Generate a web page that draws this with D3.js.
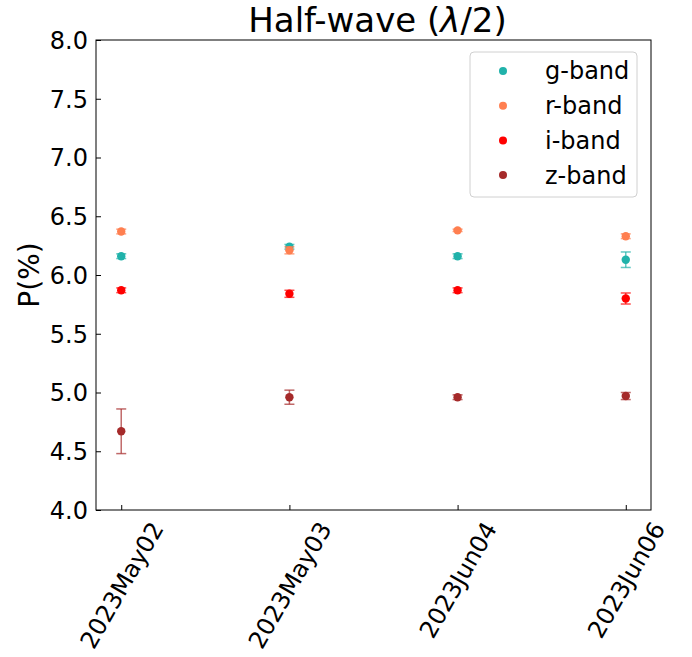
<!DOCTYPE html>
<html lang="en">
<head>
  <meta charset="UTF-8">
  <title>Half-wave</title>
  <script src="https://cdn.jsdelivr.net/npm/d3@7"></script>
  <style>
    body { margin: 0; background: #fff; }
    text { font-family: "DejaVu Sans", sans-serif; fill: #000; }
  </style>
</head>
<body>
<svg width="692" height="657"></svg>
<script>
  // data
  var dates = ["2023May02", "2023May03", "2023Jun04", "2023Jun06"];
  var bands = ["g-band", "r-band", "i-band", "z-band"];
  var colors = ["#20b2aa", "#ff7f50", "#ff0000", "#a52a2a"];
  var gVal = [6.16, 6.24, 6.16, 6.13];
  var gErr = [0.02, 0.02, 0.02, 0.066];
  var rVal = [6.37, 6.21, 6.38, 6.33];
  var rErr = [0.02, 0.03, 0.01, 0.02];
  var iVal = [5.87, 5.84, 5.87, 5.80];
  var iErr = [0.02, 0.03, 0.02, 0.047];
  var zVal = [4.67, 4.96, 4.96, 4.97];
  var zErr = [0.19, 0.06, 0.02, 0.03];
  var yTicks = [4.0, 4.5, 5.0, 5.5, 6.0, 6.5, 7.0, 7.5, 8.0];

  var series = [
    { name: bands[0], color: colors[0], val: gVal, err: gErr },
    { name: bands[1], color: colors[1], val: rVal, err: rErr },
    { name: bands[2], color: colors[2], val: iVal, err: iErr },
    { name: bands[3], color: colors[3], val: zVal, err: zErr }
  ];

  var margin = { top: 40, right: 41, bottom: 147, left: 96 };
  var width = 692 - margin.left - margin.right;
  var height = 657 - margin.top - margin.bottom;

  var x = d3.scaleLinear().domain([-0.15, 3.15]).range([0, width]);
  var y = d3.scaleLinear().domain([4, 8]).range([height, 0]);

  var svg = d3.select("svg").append("g")
    .attr("transform", "translate(" + margin.left + "," + margin.top + ")");

  // title
  var title = svg.append("text")
    .attr("x", width / 2 + 4)
    .attr("y", -8)
    .attr("text-anchor", "middle")
    .style("font-size", "34px");
  title.append("tspan").text("Half-wave (");
  title.append("tspan").style("font-style", "italic").text("\u03bb");
  title.append("tspan").text("/2)");

  // y axis (ticks inward)
  var yAxis = d3.axisLeft(y).tickValues(yTicks).tickFormat(d3.format(".1f"))
    .tickSizeInner(-5).tickSizeOuter(0).tickPadding(8);
  var gy = svg.append("g").call(yAxis);
  gy.select(".domain").remove();
  gy.selectAll("text").style("font-size", "24px").attr("dy", "0.35em");
  gy.selectAll("line").attr("stroke", "#000");

  // x axis (ticks inward, rotated labels)
  var xAxis = d3.axisBottom(x).tickValues([0, 1, 2, 3]).tickFormat(function(d) { return dates[d]; })
    .tickSizeInner(-5).tickSizeOuter(0);
  var gx = svg.append("g").attr("transform", "translate(0," + height + ")").call(xAxis);
  gx.select(".domain").remove();
  gx.selectAll("line").attr("stroke", "#000");
  gx.selectAll("text")
    .style("font-size", "24px")
    .attr("text-anchor", "middle")
    .attr("dy", "0.35em")
    .attr("y", 0)
    .attr("transform", function() {
      var len = this.getComputedTextLength();
      var boxH = len * Math.sin(Math.PI / 3) + 28 * Math.cos(Math.PI / 3);
      return "translate(0," + (7 + boxH / 2) + ") rotate(-60)";
    });

  // y label
  svg.append("text")
    .attr("transform", "translate(-57," + (height / 2) + ") rotate(-90)")
    .attr("text-anchor", "middle")
    .style("font-size", "28px")
    .text("P(%)");

  // frame
  svg.append("rect")
    .attr("width", width).attr("height", height)
    .attr("fill", "none").attr("stroke", "#000").attr("stroke-width", 1);

  // error bars + points
  var cap = 5;
  series.forEach(function(s) {
    var g = svg.append("g");
    s.val.forEach(function(v, k) {
      var cx = x(k), e = s.err[k];
      var eg = g.append("g").attr("stroke", s.color).attr("stroke-opacity", 0.7).attr("stroke-width", 1.5);
      eg.append("line").attr("x1", cx).attr("x2", cx).attr("y1", y(v - e)).attr("y2", y(v + e));
      eg.append("line").attr("x1", cx - cap).attr("x2", cx + cap).attr("y1", y(v - e)).attr("y2", y(v - e));
      eg.append("line").attr("x1", cx - cap).attr("x2", cx + cap).attr("y1", y(v + e)).attr("y2", y(v + e));
      g.append("circle").attr("cx", cx).attr("cy", y(v)).attr("r", 4.2).attr("fill", s.color);
    });
  });

  // legend
  var lx = 470 - margin.left, ly = 52 - margin.top;
  var legend = svg.append("g").attr("transform", "translate(" + lx + "," + ly + ")");
  legend.append("rect")
    .attr("width", 167).attr("height", 145).attr("rx", 4)
    .attr("fill", "#fff").attr("fill-opacity", 0.8)
    .attr("stroke", "#d0d0d0").attr("stroke-width", 1);
  series.forEach(function(s, k) {
    var ry = 19 + k * 34.7;
    legend.append("circle").attr("cx", 33).attr("cy", ry).attr("r", 4).attr("fill", s.color);
    legend.append("text").attr("x", 75).attr("y", ry).attr("dy", "0.35em")
      .style("font-size", "24px").text(s.name);
  });
</script>
</body>
</html>
